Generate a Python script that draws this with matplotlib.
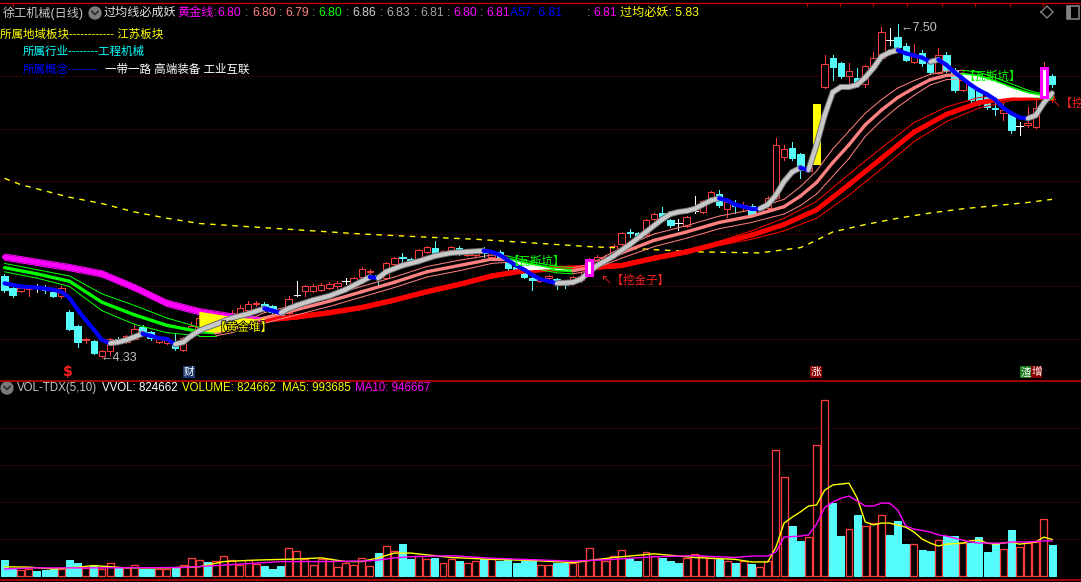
import matplotlib
matplotlib.use("Agg")
import matplotlib.pyplot as plt
import matplotlib.patheffects as pe
from matplotlib.patches import Rectangle, Circle

plt.rcParams["font.family"] = ["Noto Sans CJK SC", "DejaVu Sans"]

# ------------------------------------------------------------------
# Data (price in CNY, volume in millions of shares)
# ------------------------------------------------------------------
opens = [5.10, 4.99, 4.96, 4.98, 4.99, 4.99, 4.95, 4.91, 4.76, 4.62,
         4.49, 4.48, 4.34, 4.39, 4.50, 4.47, 4.50, 4.61, 4.57, 4.47,
         4.46, 4.47, 4.40, 4.59, 4.61, 4.69, 4.61, 4.66, 4.70, 4.71,
         4.78, 4.83, 4.83, 4.81, 4.75, 4.75, 4.92, 4.96, 4.96, 4.97,
         4.99, 5.00, 5.05, 5.03, 5.09, 5.14, 5.11, 5.08, 5.21, 5.28,
         5.26, 5.23, 5.33, 5.37, 5.31, 5.34, 5.37, 5.30, 5.30, 5.33,
         5.28, 5.33, 5.23, 5.19, 5.14, 5.08, 5.05, 5.08, 5.07, 5.05,
         5.05, 5.06, 5.11, 5.25, 5.25, 5.30, 5.40, 5.52, 5.51, 5.49,
         5.64, 5.70, 5.63, 5.60, 5.58, 5.72, 5.71, 5.82, 5.88, 5.74,
         5.79, 5.77, 5.77, 5.70, 5.75, 5.84, 6.23, 6.32, 6.26, 6.10,
         6.17, 6.90, 7.18, 7.13, 7.00, 6.99, 6.93, 7.09, 7.18, 7.35,
         7.38, 7.29, 7.14, 7.22, 7.14, 7.03, 7.20, 7.06, 6.87, 6.94,
         6.89, 6.80, 6.70, 6.65, 6.65, 6.53, 6.54, 6.52, 6.80, 7.00]
highs = [5.12, 5.00, 5.00, 5.00, 5.02, 5.01, 4.96, 5.00, 4.78, 4.63,
         4.51, 4.49, 4.40, 4.51, 4.52, 4.54, 4.63, 4.63, 4.58, 4.52,
         4.51, 4.55, 4.52, 4.66, 4.72, 4.71, 4.68, 4.74, 4.78, 4.82,
         4.86, 4.86, 4.85, 4.82, 4.76, 4.91, 5.05, 5.01, 5.02, 5.03,
         5.04, 5.05, 5.08, 5.09, 5.19, 5.17, 5.12, 5.23, 5.28, 5.32,
         5.27, 5.36, 5.39, 5.43, 5.35, 5.39, 5.39, 5.34, 5.35, 5.38,
         5.35, 5.35, 5.24, 5.20, 5.15, 5.11, 5.08, 5.11, 5.08, 5.06,
         5.10, 5.14, 5.27, 5.30, 5.30, 5.40, 5.52, 5.55, 5.52, 5.64,
         5.70, 5.76, 5.64, 5.64, 5.67, 5.86, 5.82, 5.91, 5.92, 5.81,
         5.82, 5.80, 5.79, 5.75, 5.86, 6.41, 6.35, 6.38, 6.27, 6.17,
         6.74, 7.20, 7.20, 7.14, 7.13, 7.08, 7.11, 7.23, 7.47, 7.46,
         7.50, 7.32, 7.31, 7.25, 7.15, 7.27, 7.23, 7.08, 7.06, 6.96,
         6.91, 6.82, 6.78, 6.75, 6.66, 6.57, 6.71, 6.78, 7.14, 7.02]
lows = [4.95, 4.90, 4.95, 4.91, 4.95, 4.94, 4.90, 4.89, 4.59, 4.42,
        4.46, 4.36, 4.33, 4.35, 4.45, 4.46, 4.49, 4.55, 4.49, 4.46,
        4.45, 4.40, 4.39, 4.56, 4.60, 4.60, 4.60, 4.65, 4.69, 4.70,
        4.77, 4.81, 4.76, 4.75, 4.70, 4.74, 4.91, 4.91, 4.95, 4.96,
        4.98, 4.99, 5.02, 5.02, 5.08, 5.13, 5.01, 5.07, 5.20, 5.23,
        5.21, 5.22, 5.32, 5.31, 5.30, 5.33, 5.30, 5.29, 5.29, 5.28,
        5.27, 5.25, 5.16, 5.14, 5.08, 4.97, 5.04, 5.07, 4.98, 4.99,
        5.03, 5.04, 5.10, 5.24, 5.24, 5.28, 5.39, 5.47, 5.46, 5.48,
        5.63, 5.62, 5.57, 5.54, 5.57, 5.70, 5.70, 5.81, 5.76, 5.66,
        5.70, 5.72, 5.68, 5.69, 5.74, 5.83, 6.20, 6.20, 6.03, 6.09,
        6.16, 6.89, 6.97, 6.99, 6.94, 6.92, 6.90, 7.08, 7.17, 7.30,
        7.27, 7.15, 7.13, 7.10, 7.02, 7.02, 7.04, 6.85, 6.86, 6.76,
        6.73, 6.69, 6.63, 6.59, 6.46, 6.44, 6.52, 6.51, 6.79, 6.90]
closes = [4.97, 4.92, 4.99, 4.99, 4.99, 4.97, 4.91, 4.99, 4.60, 4.47,
          4.50, 4.37, 4.39, 4.50, 4.47, 4.53, 4.60, 4.57, 4.51, 4.51,
          4.49, 4.41, 4.51, 4.62, 4.70, 4.61, 4.66, 4.71, 4.75, 4.80,
          4.83, 4.84, 4.81, 4.76, 4.71, 4.88, 4.92, 5.00, 5.00, 5.01,
          5.02, 5.03, 5.05, 5.08, 5.17, 5.15, 5.10, 5.22, 5.27, 5.27,
          5.22, 5.35, 5.38, 5.32, 5.34, 5.38, 5.31, 5.33, 5.33, 5.32,
          5.34, 5.27, 5.18, 5.16, 5.09, 5.06, 5.07, 5.10, 5.02, 5.01,
          5.09, 5.10, 5.25, 5.28, 5.28, 5.39, 5.51, 5.51, 5.47, 5.63,
          5.69, 5.63, 5.59, 5.60, 5.66, 5.72, 5.81, 5.90, 5.78, 5.80,
          5.77, 5.78, 5.69, 5.74, 5.84, 6.35, 6.31, 6.22, 6.11, 6.14,
          6.74, 7.12, 7.09, 7.00, 7.05, 6.94, 7.10, 7.18, 7.42, 7.35,
          7.28, 7.16, 7.20, 7.13, 7.04, 7.20, 7.06, 6.87, 6.97, 6.78,
          6.75, 6.71, 6.69, 6.68, 6.49, 6.53, 6.56, 6.70, 7.08, 6.93]
vol_m = [0.43, 0.19, 0.16, 0.19, 0.135, 0.16, 0.19, 0.19, 0.43, 0.35,
         0.22, 0.29, 0.19, 0.34, 0.24, 0.24, 0.29, 0.19, 0.19, 0.19,
         0.19, 0.23, 0.29, 0.50, 0.42, 0.37, 0.40, 0.53, 0.42, 0.29,
         0.42, 0.32, 0.27, 0.19, 0.27, 0.75, 0.67, 0.45, 0.29, 0.45,
         0.45, 0.23, 0.34, 0.29, 0.50, 0.27, 0.62, 0.80, 0.67, 0.86,
         0.45, 0.55, 0.45, 0.50, 0.35, 0.45, 0.40, 0.35, 0.40, 0.45,
         0.45, 0.40, 0.45, 0.35, 0.40, 0.45, 0.30, 0.30, 0.35, 0.35,
         0.35, 0.40, 0.75, 0.45, 0.40, 0.55, 0.70, 0.50, 0.40, 0.65,
         0.55, 0.50, 0.40, 0.35, 0.50, 0.60, 0.55, 0.50, 0.45, 0.40,
         0.35, 0.40, 0.32, 0.24, 0.41, 3.40, 2.68, 1.35, 0.95, 1.05,
         3.54, 4.76, 1.97, 1.08, 1.27, 1.65, 1.35, 1.43, 1.65, 1.10,
         1.49, 0.86, 0.86, 0.70, 0.68, 0.97, 1.08, 1.08, 0.89, 0.89,
         1.05, 0.65, 0.89, 0.73, 1.24, 0.78, 0.89, 0.92, 1.54, 0.824662]
# r = red hollow bar, c = cyan solid bar
vol_col = ("ccrrcccrcc" "rcrrcrrccr" "rcrrrcrrrr" "rrcccrrrrr" "rrrrrrcrrc"
           "crrcrrcrrc" "rcccccrrcc" "rrrrrrrccr" "rcccrrrrcr" "cr"
           "crrrrccrrr" "ccrcrrrccc" "rccrccrccc" "crcrrrrc")

# short average (gray when rising, blue when falling)
ma_s_idx = [0, 2, 4, 6, 7, 8, 9, 10, 11, 12, 13, 14, 15, 16, 17, 18, 19, 20, 21, 22,
            23, 24, 26, 28, 30, 32, 33, 34, 35, 36, 38, 40, 42, 44, 45, 46, 47, 49, 51, 53,
            55, 57, 59, 60, 61, 62, 63, 64, 65, 66, 68, 70, 71, 72, 73, 75, 77, 79, 81, 82,
            83, 84, 85, 86, 87, 88, 89, 90, 91, 92, 93, 94, 95, 96, 97, 98, 99, 100, 101, 102,
            103, 104, 105, 106, 107, 108, 109, 110, 111, 112, 113, 114, 115, 116, 117, 118,
            119, 120, 121, 122, 123, 124, 125, 126, 127, 128, 129]
ma_s = [5.03, 5.00, 4.99, 4.97, 4.95, 4.89, 4.78, 4.68, 4.59, 4.49, 4.46, 4.47, 4.49, 4.52,
        4.55, 4.53, 4.51, 4.50, 4.45, 4.47, 4.53, 4.58, 4.64, 4.70, 4.74, 4.79, 4.77, 4.75,
        4.79, 4.82, 4.87, 4.91, 4.97, 5.05, 5.09, 5.08, 5.14, 5.20, 5.24, 5.29, 5.32, 5.33,
        5.34, 5.33, 5.30, 5.25, 5.20, 5.16, 5.11, 5.07, 5.03, 5.04, 5.07, 5.14, 5.20, 5.29,
        5.40, 5.52, 5.64, 5.69, 5.71, 5.72, 5.74, 5.78, 5.82, 5.84, 5.82, 5.78, 5.76, 5.74,
        5.74, 5.78, 5.87, 6.00, 6.09, 6.13, 6.11, 6.35, 6.63, 6.85, 6.90, 6.90, 6.92, 6.99,
        7.08, 7.19, 7.23, 7.25, 7.22, 7.20, 7.18, 7.14, 7.16, 7.11, 7.04, 6.98, 6.92, 6.87,
        6.83, 6.78, 6.70, 6.65, 6.61, 6.60, 6.63, 6.75, 6.84]

# mid average band (pink when rising, green when falling)
ma10_idx = [0, 4, 8, 12, 16, 20, 24, 26, 28, 32, 36, 40, 44, 48, 52, 56, 60, 62, 64, 66,
            68, 70, 72, 76, 80, 84, 88, 92, 96, 98, 100, 102, 104, 106, 108, 110, 112, 114,
            116, 118, 120, 122, 124, 126, 128, 129]
ma10 = [5.18, 5.12, 5.05, 4.85, 4.73, 4.63, 4.57, 4.56, 4.59, 4.70, 4.78, 4.86, 4.95, 5.04,
        5.14, 5.20, 5.26, 5.26, 5.22, 5.19, 5.16, 5.15, 5.18, 5.32, 5.44, 5.52, 5.61, 5.67,
        5.76, 5.86, 5.99, 6.18, 6.35, 6.54, 6.68, 6.80, 6.89, 6.97, 7.01, 7.02, 7.00, 6.95,
        6.89, 6.84, 6.81, 6.80]
ma10_spread = [0.04, 0.04, 0.05, 0.08, 0.09, 0.07, 0.04, 0.03, 0.03, 0.05, 0.05, 0.05, 0.05,
               0.05, 0.05, 0.05, 0.04, 0.03, 0.03, 0.03, 0.03, 0.03, 0.03, 0.05, 0.06, 0.06,
               0.06, 0.06, 0.07, 0.09, 0.11, 0.13, 0.13, 0.11, 0.10, 0.09, 0.07, 0.05, 0.04,
               0.04, 0.04, 0.04, 0.04, 0.03, 0.02, 0.02]

# long average band (red when rising, magenta when falling)
ma30_idx = [0, 4, 8, 12, 16, 20, 24, 28, 32, 36, 40, 44, 48, 52, 56, 60, 64, 68, 72, 76,
            80, 84, 88, 92, 96, 100, 104, 108, 112, 116, 120, 124, 128, 129]
ma30 = [5.28, 5.23, 5.18, 5.12, 4.99, 4.84, 4.76, 4.71, 4.68, 4.71, 4.75, 4.80, 4.87, 4.95,
        5.02, 5.10, 5.15, 5.17, 5.18, 5.20, 5.27, 5.33, 5.41, 5.49, 5.59, 5.73, 5.97, 6.22,
        6.47, 6.64, 6.75, 6.80, 6.80, 6.80]
ma30_spread = [0.03, 0.03, 0.03, 0.03, 0.03, 0.03, 0.03, 0.03, 0.02, 0.02, 0.02, 0.02, 0.02,
               0.02, 0.02, 0.02, 0.02, 0.02, 0.02, 0.02, 0.02, 0.02, 0.02, 0.04, 0.06, 0.08,
               0.10, 0.10, 0.09, 0.07, 0.05, 0.03, 0.02, 0.02]

# yellow dashed line (过均必妖)
yma_idx = [0, 2, 4, 8, 12, 16, 20, 24, 28, 32, 38, 44, 52, 58, 62, 66, 72, 78, 85, 93,
           98, 100, 102, 106, 110, 114, 118, 122, 126, 129]
yma = [6.03, 5.97, 5.93, 5.85, 5.79, 5.71, 5.65, 5.60, 5.58, 5.56, 5.53, 5.50, 5.47, 5.45,
       5.43, 5.41, 5.38, 5.36, 5.33, 5.32, 5.37, 5.44, 5.52, 5.59, 5.65, 5.70, 5.74, 5.77,
       5.80, 5.83]

# volume averages (millions)
vma5_idx = [0, 3, 6, 8, 11, 15, 20, 24, 27, 31, 36, 39, 42, 44, 46, 48, 50, 55, 60, 65,
            70, 75, 80, 85, 90, 92, 94, 95, 96, 97, 98, 99, 100, 101, 102, 104, 105, 106,
            107, 108, 109, 111, 112, 113, 114, 115, 116, 118, 119, 120, 121, 122, 124, 125,
            126, 127, 128, 129]
vma5 = [0.25, 0.24, 0.19, 0.22, 0.28, 0.22, 0.22, 0.25, 0.39, 0.43, 0.46, 0.49, 0.39, 0.39,
        0.49, 0.62, 0.62, 0.50, 0.45, 0.42, 0.36, 0.50, 0.60, 0.50, 0.45, 0.38, 0.38, 0.78,
        1.43, 1.59, 1.73, 1.89, 1.92, 2.32, 2.46, 2.51, 2.11, 1.46, 1.38, 1.43, 1.43, 1.32,
        1.19, 1.00, 0.89, 0.81, 0.86, 0.89, 0.95, 0.97, 0.89, 0.86, 0.92, 0.86, 0.89, 0.92,
        1.05, 0.99]
vma10_idx = [0, 4, 12, 22, 25, 29, 34, 40, 45, 46, 48, 50, 55, 60, 65, 70, 75, 80, 85, 90,
             92, 94, 95, 96, 98, 99, 100, 101, 102, 103, 104, 105, 106, 107, 108, 109, 110,
             111, 112, 114, 115, 116, 118, 119, 120, 123, 124, 126, 128, 129]
vma10 = [0.19, 0.22, 0.22, 0.23, 0.27, 0.32, 0.39, 0.39, 0.41, 0.43, 0.49, 0.52, 0.55, 0.48,
         0.44, 0.40, 0.45, 0.52, 0.55, 0.50, 0.54, 0.54, 0.65, 1.05, 1.08, 1.11, 1.40, 1.85,
         2.00, 2.10, 2.16, 2.03, 1.89, 1.89, 1.97, 1.97, 1.78, 1.35, 1.27, 1.19, 1.11, 1.08,
         0.97, 0.92, 0.89, 0.89, 0.92, 0.92, 0.95, 0.95]

yellow_bars = [100]
magenta_bars = [72, 128]

RED = "#ff3c3c"
CYAN = "#54fcfc"
GRID = "#a00000"
PX = 0.72  # one pixel in points at dpi 100

W, H = 1081, 582
fig = plt.figure(figsize=(W / 100, H / 100), dpi=100, facecolor="black")


def frect(x0, y0, x1, y1):
    return [x0 / W, 1 - y1 / H, (x1 - x0) / W, (y1 - y0) / H]


ax = fig.add_axes(frect(0, 20, W, 378))
axv = fig.add_axes(frect(0, 381, W, 579))
for a in (ax, axv):
    a.set_facecolor("black")
    a.set_xlim(-0.554, 132.57)
    a.set_xticks([])
    a.set_yticks([])
    for s in a.spines.values():
        s.set_visible(False)
ax.set_ylim(4.1286, 7.538)
axv.set_ylim(-0.081, 5.27)

for p in [4.5, 5.0, 5.5, 6.0, 6.5, 7.0]:
    ax.axhline(p, color=GRID, lw=PX, ls=(0, (1, 3)), zorder=0)
for v in [1, 2, 3, 4]:
    axv.axhline(v, color=GRID, lw=PX, ls=(0, (1, 3)), zorder=0)

# ------------------------------------------------------------------
# Candles
# ------------------------------------------------------------------
bw = 0.8
for i in range(len(opens)):
    o, h, l, c = opens[i], highs[i], lows[i], closes[i]
    lo_b, hi_b = min(o, c), max(o, c)
    if i in yellow_bars:
        ax.add_patch(Rectangle((i - bw / 2, lo_b), bw, hi_b - lo_b, fc="#ffff00", ec="#ffff00",
                               lw=PX, zorder=2))
        continue
    if i in magenta_bars:
        ax.plot([i, i], [hi_b, h], color=RED, lw=PX, zorder=2)
        ax.plot([i, i], [l, lo_b], color=RED, lw=PX, zorder=2)
        ax.add_patch(Rectangle((i - bw / 2, lo_b), bw, hi_b - lo_b, fc="white", ec="#ff00ff",
                               lw=2.2, zorder=5))
        continue
    if c > o:
        ax.plot([i, i], [hi_b, h], color=RED, lw=PX, zorder=2)
        ax.plot([i, i], [l, lo_b], color=RED, lw=PX, zorder=2)
        ax.add_patch(Rectangle((i - bw / 2, lo_b), bw, hi_b - lo_b, fc="black", ec=RED,
                               lw=PX, zorder=2))
    elif c < o:
        ax.plot([i, i], [l, h], color=CYAN, lw=PX, zorder=2)
        ax.add_patch(Rectangle((i - bw / 2, lo_b), bw, hi_b - lo_b, fc=CYAN, ec=CYAN,
                               lw=PX, zorder=2))
    else:
        ax.plot([i, i], [l, h], color="white", lw=PX, zorder=2)
        ax.plot([i - bw / 2, i + bw / 2], [c, c], color="white", lw=PX, zorder=2)


# ------------------------------------------------------------------
# Lines coloured by direction
# ------------------------------------------------------------------
def dir_colors(vals, up, down):
    cols, last = [], up
    for k in range(len(vals) - 1):
        if vals[k + 1] > vals[k]:
            last = up
        elif vals[k + 1] < vals[k]:
            last = down
        cols.append(last)
    return cols


def seg_plot(axis, xs, ys, cols, lw, z, outline=None):
    for k in range(len(xs) - 1):
        if outline and cols[k] in outline:
            axis.plot(xs[k:k + 2], ys[k:k + 2], color=outline[cols[k]], lw=lw + 1.4,
                      solid_capstyle="round", zorder=z)
        axis.plot(xs[k:k + 2], ys[k:k + 2], color=cols[k], lw=lw,
                  solid_capstyle="round", zorder=z + 0.1)


def band(idx, centre, spread, up, down, lw_c, z):
    cols = dir_colors(centre, up, down)
    hi = [c + s for c, s in zip(centre, spread)]
    lo = [c - s for c, s in zip(centre, spread)]
    seg_plot(ax, idx, hi, cols, PX, z)
    seg_plot(ax, idx, lo, cols, PX, z)
    seg_plot(ax, idx, centre, cols, lw_c, z)


ax.plot(yma_idx, yma, color="#ffff00", lw=1.0, ls=(0, (4, 4)), zorder=3)

# fills: 黄金堆 (yellow) and 瓦斯坑 (white)
ax.fill([24, 28, 32, 32, 28, 26, 24], [4.76, 4.71, 4.68, 4.70, 4.59, 4.56, 4.57],
        color="#ffff00", lw=0, zorder=3.5)
ax.fill([62, 64, 66, 68, 70, 68, 64], [5.26, 5.22, 5.19, 5.16, 5.15, 5.17, 5.15],
        color="white", lw=0, zorder=3.5)
ax.fill([118, 120, 122, 124, 126, 128, 128, 124, 122, 120, 118],
        [7.02, 7.00, 6.95, 6.89, 6.84, 6.81, 6.80, 6.80, 6.78, 6.87, 6.98],
        color="white", lw=0, zorder=3.5)

band(ma30_idx, ma30, ma30_spread, "#ff0000", "#ff00ff", 3.6, 3)
band(ma10_idx, ma10, ma10_spread, "#ff8080", "#00ff00", 2.4, 3.2)
seg_plot(ax, ma_s_idx, ma_s, dir_colors(ma_s, "#c8c8c8", "#0000ff"), 3.0, 4,
         outline={"#c8c8c8": "#6e6e6e"})

# signal labels
FS = 8.3
lbl = dict(fontsize=FS, va="center", zorder=6)
ax.text(65.5, 5.24, "【瓦斯坑】", color="#00ff00", ha="center", **lbl)
ax.text(121.6, 7.00, "【瓦斯坑】", color="#00ff00", ha="center", **lbl)
ax.text(73.4, 5.06, "↖【挖金子】", color="#ff2020", ha="left", **lbl)
ax.text(128.6, 6.74, "↖【挖金子】", color="#ff2020", ha="left", **lbl)
ax.text(29.4, 4.61, "【黄金堆】", color="#ffff00", ha="center",
        path_effects=[pe.withStroke(linewidth=1.2, foreground="black")], **lbl)
ax.text(11.8, 4.32, "←4.33", color="#c0c0c0", ha="left", fontsize=9, va="center",
        family=["Liberation Sans", "Noto Sans CJK SC"], zorder=6)
ax.text(110.3, 7.46, "←7.50", color="#c0c0c0", ha="left", fontsize=9, va="center",
        family=["Liberation Sans", "Noto Sans CJK SC"], zorder=6)

# ------------------------------------------------------------------
# Volume
# ------------------------------------------------------------------
for i, v in enumerate(vol_m):
    if vol_col[i] == "r":
        axv.add_patch(Rectangle((i - 0.43, 0), 0.86, v, fc="black", ec=RED, lw=PX * 1.3, zorder=2))
    else:
        axv.add_patch(Rectangle((i - 0.43, 0), 0.86, v, fc=CYAN, ec=CYAN, lw=PX, zorder=2))
axv.plot(vma5_idx, vma5, color="#ffff00", lw=1.0, zorder=3)
axv.plot(vma10_idx, vma10, color="#ff00ff", lw=1.0, zorder=3)

# ------------------------------------------------------------------
# Overlay: frame, headers, markers (pixel coordinates)
# ------------------------------------------------------------------
ov = fig.add_axes([0, 0, 1, 1])
ov.set_xlim(0, W)
ov.set_ylim(H, 0)
ov.axis("off")

ov.plot([0, W], [380.5, 380.5], color="#c00000", lw=1.2)
ov.plot([0, W], [579.5, 579.5], color="#c00000", lw=1.2)
ov.plot([0, W], [2.5, 2.5], color="#c00000", lw=1.0)
for tx in [13, 807, 840, 873, 907, 942, 975, 1010, 1043]:
    ov.plot([tx, tx], [2.5, 6], color="#c00000", lw=0.8)

LAT = ["Liberation Sans", "Noto Sans CJK SC"]
hdr = dict(fontsize=FS, va="center", ha="left", family=LAT)
top = dict(fontsize=8.7, va="center", ha="left", family=LAT)


def icon(x, y):
    ov.add_patch(Circle((x, y), 6, color="#7a7a7a"))
    ov.plot([x - 3, x, x + 3], [y - 1.5, y + 1.5, y - 1.5], color="#2a2a2a", lw=1.2)


ov.text(3, 13, "徐工机械(日线)", color="#c8c8c8", **top)
icon(95, 13)
ov.text(104, 13, "过均线必成妖", color="#e0e0e0", **top)
ov.text(177, 13, "黄金线:", color="#ff00ff", **top)
hdr_vals = [(217, "6.80", "#ff00ff"), (252, "6.80", "#ff8080"), (285, "6.79", "#ff8080"),
            (318, "6.80", "#00ff00"), (352, "6.86", "#d0d0d0"), (386, "6.83", "#b0b0b0"),
            (420, "6.81", "#a0a0a0"), (453, "6.80", "#ff00ff"), (486, "6.81", "#ff00ff"),
            (510, "A57: 6.81", "#0000ff"), (593, "6.81", "#ff00ff"),
            (620, "过均必妖: 5.83", "#ffff00")]
for x, s, c in hdr_vals:
    ov.text(x, 13, s, color=c, **top)
for x in [245, 279, 312, 346, 380, 414, 447, 480, 587]:
    ov.text(x, 13, ":", color="#a0a0a0", **top)

ov.text(0, 35, "所属地域板块------------ 江苏板块", color="#ffff00", **hdr)
ov.text(23, 52, "所属行业--------工程机械", color="#00ffff", **hdr)
ov.text(23, 70, "所属概念--------", color="#0000ff", **hdr)
ov.text(105, 70, "一带一路 高端装备 工业互联", color="white", **hdr)

# top-right icons
ov.plot([1041, 1047, 1053, 1047, 1041], [12, 6, 12, 18, 12], color="#808080", lw=1)
ov.add_patch(Rectangle((1067, 5.5), 12, 13, fc="none", ec="#808080", lw=1.2))
ov.add_patch(Rectangle((1067, 5.5), 4, 13, fc="#808080", ec="none"))

# volume header
icon(7, 388)
vh = [(17, "VOL-TDX(5,10)", "#c8c8c8"), (102, "VVOL: 824662", "white"),
      (182, "VOLUME: 824662", "#ffff00"), (282, "MA5: 993685", "#ffff00"),
      (355, "MA10: 946667", "#ff00ff")]
for x, s, c in vh:
    ov.text(x, 388, s, color=c, **hdr)

# bottom signal markers
ov.text(68, 372, "$", color="#ff2020", fontsize=10, fontweight="bold", ha="center",
        va="center", family=["DejaVu Sans"])
for x0, x1, s, bg in [(183, 195, "财", "#1f3a6e"), (810, 822, "涨", "#8b0000"),
                      (1020, 1031, "渣", "#1e7b1e"), (1031, 1042, "增", "#8b0000")]:
    ov.add_patch(Rectangle((x0, 366), x1 - x0, 12, fc=bg, ec="none"))
    ov.text((x0 + x1) / 2, 372, s, color="white", fontsize=7.6, ha="center", va="center")

fig.savefig("out.png", dpi=100, facecolor="black")
